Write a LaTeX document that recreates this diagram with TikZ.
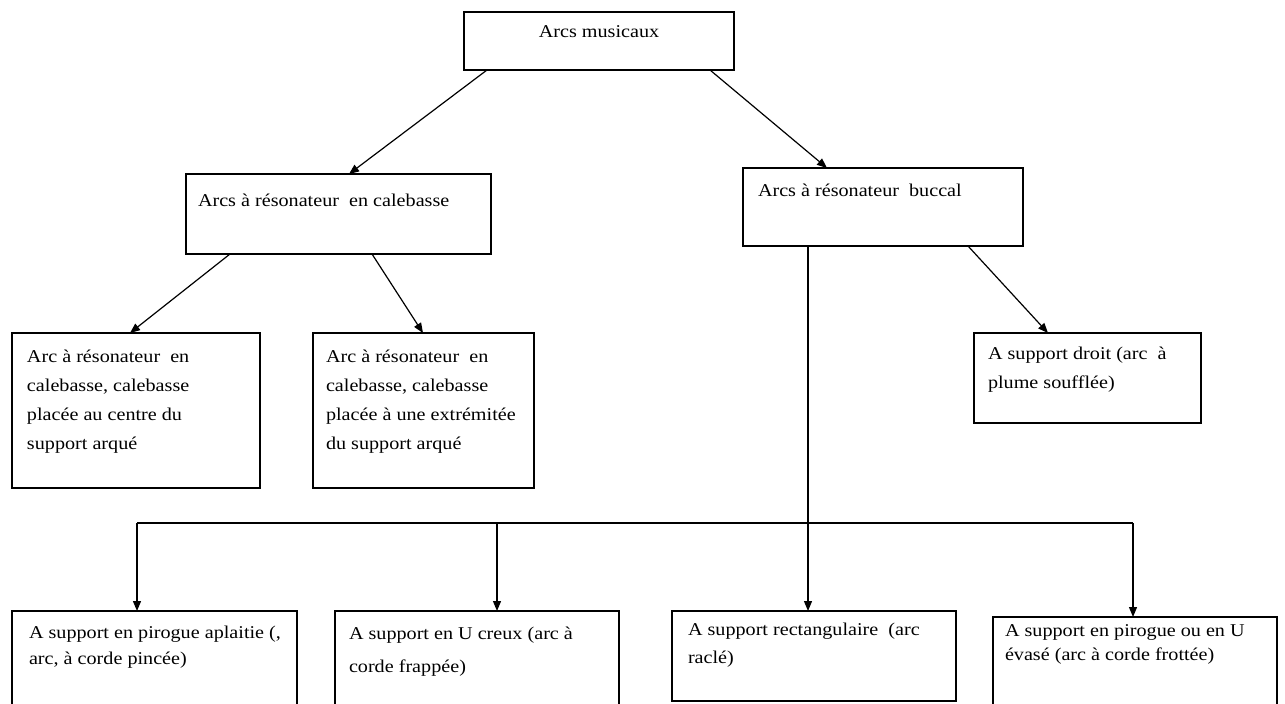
\documentclass[tikz,border=0pt]{standalone}
\usepackage{fontspec}
\setmainfont[FakeStretch=1.12]{Liberation Serif}
\usetikzlibrary{arrows.meta,calc}
\begin{document}
\begin{tikzpicture}[x=1pt,y=-1pt,
  box/.style={draw, line width=1.5pt, inner sep=0pt, outer sep=0pt, anchor=north west},
  txt/.style={anchor=base west, align=left, inner sep=0pt, outer sep=0pt},
  conn/.style={line width=1.2pt},
  arr/.style={conn, -{Triangle[length=10pt,width=8pt]}}]
\useasboundingbox[fill=white] (0,0) rectangle (1285,704);
\clip (0,0) rectangle (1285,704);
% boxes
\node[box, minimum width=270pt, minimum height=58pt] (top) at (464,12) {};
\node[box, minimum width=305pt, minimum height=80pt] (cal) at (186,174) {};
\node[box, minimum width=280pt, minimum height=78pt] (buc) at (743,168) {};
\node[box, minimum width=248pt, minimum height=155pt] (a1) at (12,333) {};
\node[box, minimum width=221pt, minimum height=155pt] (a2) at (313,333) {};
\node[box, minimum width=227pt, minimum height=90pt] (sd) at (974,333) {};
\node[box, minimum width=285pt, minimum height=120pt] (b1) at (12,611) {};
\node[box, minimum width=284pt, minimum height=120pt] (b2) at (335,611) {};
\node[box, minimum width=284pt, minimum height=90pt] (b3) at (672,611) {};
\node[box, minimum width=284pt, minimum height=120pt] (b4) at (993,617) {};
% texts (base anchor = baseline of the last line)
\node[txt, anchor=base, font=\fontsize{18}{29}\selectfont] (topt) at (599,37) {Arcs musicaux};
\node[txt, font=\fontsize{18}{29}\selectfont] (calt) at (198,206) {Arcs à résonateur\ \ en calebasse};
\node[txt, font=\fontsize{18}{29}\selectfont] (buct) at (758,196) {Arcs à résonateur\ \ buccal};
\node[txt, font=\fontsize{18}{29}\selectfont] (a1t) at (27,449) {Arc à résonateur\ \ en\\calebasse, calebasse\\placée au centre du\\support arqué};
\node[txt, font=\fontsize{18}{29}\selectfont] (a2t) at (326,449) {Arc à résonateur\ \ en\\calebasse, calebasse\\placée à une extrémitée\\du support arqué};
\node[txt, font=\fontsize{18}{29}\selectfont] (sdt) at (988,388) {A support droit\ (arc\ \ à\\plume soufflée)};
\node[txt, font=\fontsize{18}{26}\selectfont] (b1t) at (29,664) {A support en pirogue aplaitie (,\\arc, à corde pincée)};
\node[txt, font=\fontsize{18}{33}\selectfont] (b2t) at (349,672) {A support en U creux\ (arc à\\corde frappée)};
\node[txt, font=\fontsize{18}{28}\selectfont] (b3t) at (688,663) {A support rectangulaire\ \ (arc\\raclé)};
\node[txt, font=\fontsize{18}{24}\selectfont] (b4t) at (1005,660) {A support en pirogue ou en U\\évasé (arc à corde frottée)};
% connectors
\draw[arr] ($(top.south west)+(23,0)$) -- ($(cal.north west)+(163,0)$);
\draw[arr] ($(top.south west)+(246,0)$) -- ($(buc.north west)+(84,0)$);
\draw[arr] ($(cal.south west)+(44,0)$) -- ($(a1.north west)+(118,0)$);
\draw[arr] ($(cal.south west)+(186,0)$) -- ($(a2.north west)+(110,0)$);
\draw[arr] ($(buc.south west)+(225,0)$) -- ($(sd.north west)+(74,0)$);
\coordinate (bv) at ($(buc.south west)+(65,0)$);
\draw[arr] (bv) -- (bv |- b3.north);
\coordinate (hl) at (137,523);
\coordinate (hm) at (497,523);
\coordinate (hr) at (1133,523);
\draw[conn] (hl) -- (hr);
\draw[arr] (hl) -- (hl |- b1.north);
\draw[arr] (hm) -- (hm |- b2.north);
\draw[arr] (hr) -- (hr |- b4.north);
\end{tikzpicture}
\end{document}
